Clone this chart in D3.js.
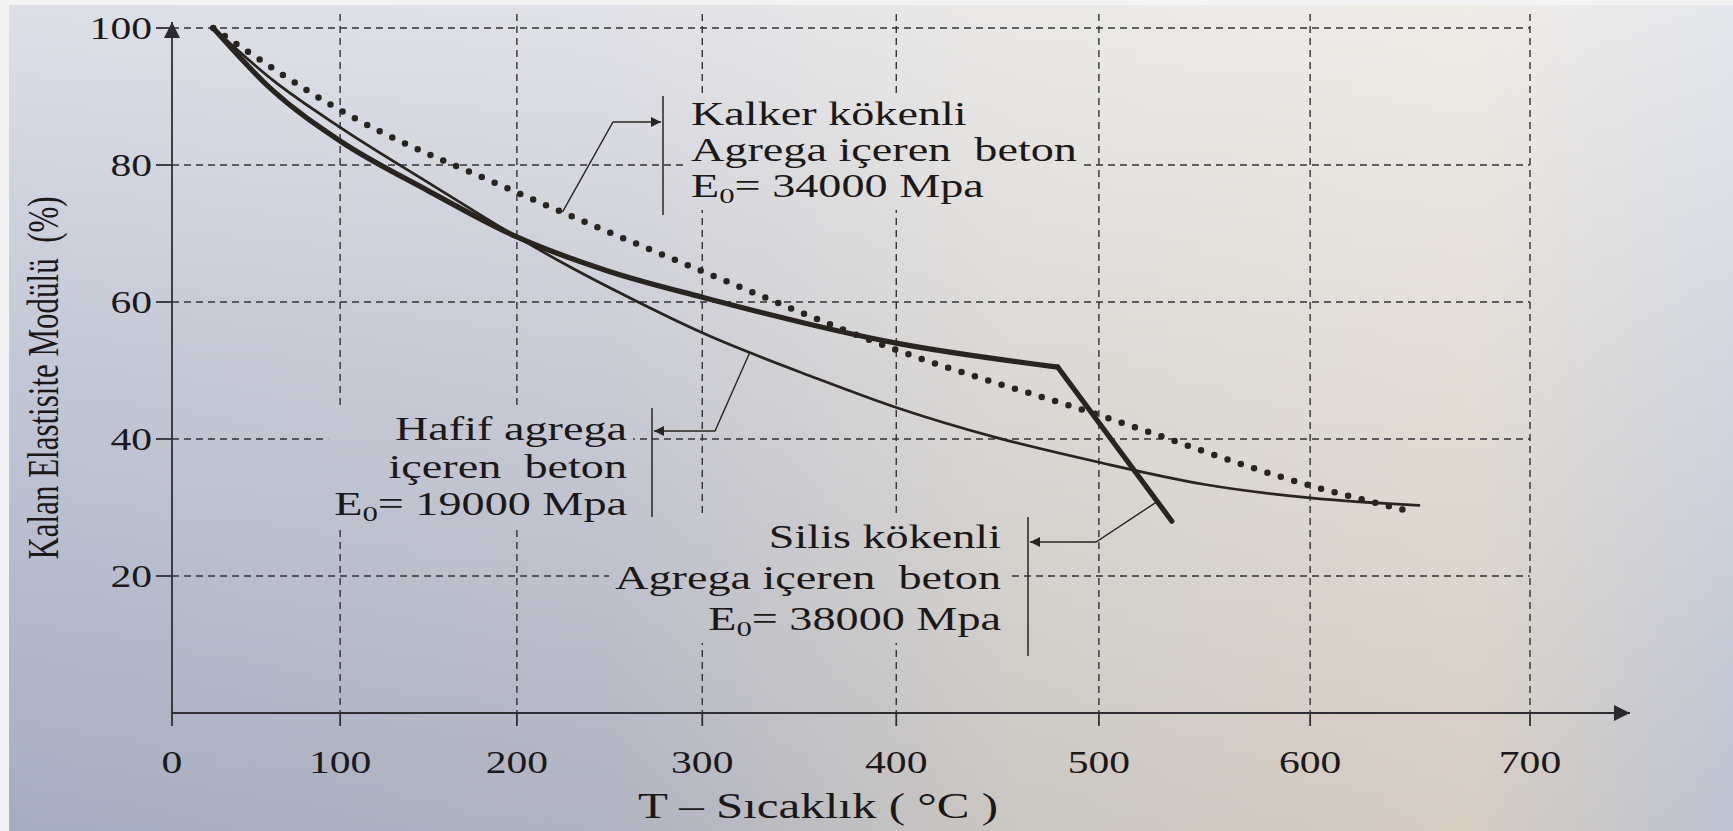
<!DOCTYPE html>
<html>
<head>
<meta charset="utf-8">
<script src="https://cdn.jsdelivr.net/npm/d3@7"></script>
<style>
  body { margin: 0; background: #dcdad6; }
  svg { display: block; }
  text { font-family: "Liberation Serif", "DejaVu Serif", serif; fill: #1b1817; white-space: pre; }
</style>
</head>
<body>
<div id="chart"></div>
<script>
// tick values
var xTicks = [0, 100, 200, 300, 400, 500, 600, 700];
var yTicks = [20, 40, 60, 80, 100];

// Kalker kökenli agrega (dotted line)
var kalkerT = [25, 100, 200, 300, 400, 500, 600, 645];
var kalkerE = [100, 88, 76, 64.5, 53, 43.5, 33.2, 29.5];

// Hafif agrega (thin line)
var hafifT = [25, 60, 100, 150, 200, 230, 260, 300, 360, 400, 450, 500, 550, 600, 650];
var hafifE = [100, 92.5, 85.5, 77.5, 69.5, 65, 60.8, 55.5, 48.8, 44.6, 40.2, 36.6, 33.4, 31.4, 30.3];

// Silis kökenli agrega (thick line), sharp break at 480
var silisT = [25, 60, 100, 150, 200, 250, 300, 400, 480, 535];
var silisE = [100, 91, 83.5, 76.3, 69.5, 64.5, 60.7, 54, 50.5, 28];
var silisBreak = 480;

var W = 1733, H = 831;
var ink = "#2a2421";

var svg = d3.select("#chart").append("svg")
    .attr("width", W)
    .attr("height", H);

var defs = svg.append("defs");

// paper colour of the photo: bluish at left, beige at right, lighter on top
var bgH = defs.append("linearGradient").attr("id", "bgH");
[["0%", "#a6adc2"], ["35%", "#b0b3c1"], ["58%", "#cbc7c2"], ["85%", "#d6cdc2"], ["100%", "#bdc3d1"]]
  .forEach(function(s) { bgH.append("stop").attr("offset", s[0]).attr("stop-color", s[1]); });
var bgV = defs.append("linearGradient").attr("id", "bgV")
    .attr("x1", 0).attr("y1", 0).attr("x2", 0).attr("y2", 1);
[["0%", 0.62], ["45%", 0.32], ["100%", 0]]
  .forEach(function(s) { bgV.append("stop").attr("offset", s[0]).attr("stop-color", "#fff").attr("stop-opacity", s[1]); });

svg.append("rect").attr("width", W).attr("height", H).attr("fill", "url(#bgH)");
svg.append("rect").attr("width", W).attr("height", H).attr("fill", "url(#bgV)");
svg.append("rect").attr("width", W).attr("height", 5).attr("fill", "#f3f3f3");
svg.append("rect").attr("width", 9).attr("height", H).attr("fill", "#f3f3f3");

// arrow heads
defs.append("marker").attr("id", "smallArrow")
    .attr("viewBox", "0 0 10 10").attr("refX", 10).attr("refY", 5)
    .attr("markerUnits", "userSpaceOnUse").attr("markerWidth", 16).attr("markerHeight", 10)
    .attr("orient", "auto")
  .append("path").attr("d", "M0,0L10,5L0,10Z").attr("fill", ink);
defs.append("marker").attr("id", "bigArrow")
    .attr("viewBox", "0 0 10 10").attr("refX", 10).attr("refY", 5)
    .attr("markerUnits", "userSpaceOnUse").attr("markerWidth", 24).attr("markerHeight", 16)
    .attr("orient", "auto")
  .append("path").attr("d", "M0,0L10,5L0,10Z").attr("fill", "#2a2a2e");

// scales: the photo spreads the right side a little, so x runs on a gently
// widening (shifted square) scale instead of a straight one
var xOffset = 1900;
var xPow = d3.scalePow().exponent(2).domain([xOffset, xOffset + 700]).range([172, 1530]);
var x = function(t) { return xPow(t + xOffset); };
var y = d3.scaleLinear().domain([0, 100]).range([713, 28]);

// grid, masked behind the text blocks
var mask = defs.append("mask").attr("id", "gridMask")
    .attr("maskUnits", "userSpaceOnUse").attr("x", 0).attr("y", 0).attr("width", W).attr("height", H);
mask.append("rect").attr("width", W).attr("height", H).attr("fill", "#fff");

var grid = svg.append("g").attr("mask", "url(#gridMask)")
    .attr("stroke", "#333336").attr("stroke-width", 1.4).attr("stroke-dasharray", "7,5");
grid.selectAll(".hg").data(yTicks).enter().append("line")
    .attr("x1", x(0)).attr("x2", x(700))
    .attr("y1", function(d) { return y(d); }).attr("y2", function(d) { return y(d); });
grid.selectAll(".vg").data(xTicks.slice(1)).enter().append("line")
    .attr("x1", function(d) { return x(d); }).attr("x2", function(d) { return x(d); })
    .attr("y1", y(100) - 14).attr("y2", y(0));

// axes
var axes = svg.append("g").attr("stroke", "#2f2f33").attr("stroke-width", 1.8);
axes.append("line").attr("x1", x(0)).attr("x2", x(0)).attr("y1", y(0)).attr("y2", y(100) - 6)
    .attr("marker-end", "url(#bigArrow)");
axes.append("line").attr("x1", x(0)).attr("x2", x(700) + 100).attr("y1", y(0)).attr("y2", y(0))
    .attr("marker-end", "url(#bigArrow)");
axes.selectAll(".yt").data(yTicks).enter().append("line")
    .attr("x1", x(0) - 16).attr("x2", x(0))
    .attr("y1", function(d) { return y(d); }).attr("y2", function(d) { return y(d); });
axes.selectAll(".xt").data(xTicks).enter().append("line")
    .attr("x1", function(d) { return x(d); }).attr("x2", function(d) { return x(d); })
    .attr("y1", y(0)).attr("y2", y(0) + 13);

// tick labels
svg.selectAll(".ylab").data(yTicks).enter().append("text")
    .attr("transform", function(d) { return "translate(" + (x(0) - 20) + "," + (y(d) + 11) + ") scale(1.3,1)"; })
    .attr("text-anchor", "end").attr("font-size", 32)
    .text(function(d) { return d; });
svg.selectAll(".xlab").data(xTicks).enter().append("text")
    .attr("transform", function(d) { return "translate(" + x(d) + "," + (y(0) + 60) + ") scale(1.3,1)"; })
    .attr("text-anchor", "middle").attr("font-size", 32)
    .text(function(d) { return d; });

// axis titles
svg.append("text")
    .attr("transform", "translate(58,378) scale(1.4,1) rotate(-90)")
    .attr("text-anchor", "middle").attr("font-size", 31)
    .text("Kalan Elastisite Modülü  (%)");
svg.append("text")
    .attr("transform", "translate(818,818) scale(1.4,1)")
    .attr("text-anchor", "middle").attr("font-size", 35)
    .text("T – Sıcaklık ( °C )");

// curves
var line = d3.line()
    .x(function(d) { return x(d[0]); })
    .y(function(d) { return y(d[1]); })
    .curve(d3.curveMonotoneX);

var kalker = d3.zip(kalkerT, kalkerE);
var hafif = d3.zip(hafifT, hafifE);
var silis = d3.zip(silisT, silisE);
var k = silisT.indexOf(silisBreak);

var curves = svg.append("g").attr("fill", "none").attr("stroke", ink)
    .attr("stroke-linejoin", "round").attr("stroke-linecap", "round");
curves.append("path").attr("d", line(kalker))
    .attr("stroke-width", 6.5).attr("stroke-dasharray", "0,14");
curves.append("path").attr("d", line(hafif)).attr("stroke-width", 2.7);
curves.append("path").attr("d", line(silis.slice(0, k + 1))).attr("stroke-width", 5.2);
curves.append("path").attr("d", line.curve(d3.curveLinear)(silis.slice(k))).attr("stroke-width", 5.2);

// annotations
var notes = [
  { lines: ["Kalker kökenli", "Agrega içeren  beton"], e0: "34000", tx: 691, ty: 125, dy: 36, anchor: "start",
    bx: 663, by: [96, 215], T: kalkerT, E: kalkerE, at: 225, bend: [613, 122], tip: [661, 122] },
  { lines: ["Hafif agrega", "içeren  beton"], e0: "19000", tx: 627, ty: 440, dy: 37.5, anchor: "end",
    bx: 652, by: [408, 517], T: hafifT, E: hafifE, at: 325, bend: [715, 431], tip: [654, 431] },
  { lines: ["Silis kökenli", "Agrega içeren  beton"], e0: "38000", tx: 1001, ty: 548, dy: 41, anchor: "end",
    bx: 1028, by: [517, 656], T: silisT, E: silisE, at: 528, bend: [1096, 542], tip: [1030, 542] }
];

notes.forEach(function(n) {
  var g = svg.append("g");
  var txt = g.append("g");
  n.lines.forEach(function(s, i) {
    txt.append("text")
        .attr("transform", "translate(" + n.tx + "," + (n.ty + i * n.dy) + ") scale(1.4,1)")
        .attr("text-anchor", n.anchor).attr("font-size", 33)
        .text(s);
  });
  var t = txt.append("text")
      .attr("transform", "translate(" + n.tx + "," + (n.ty + n.lines.length * n.dy) + ") scale(1.4,1)")
      .attr("text-anchor", n.anchor).attr("font-size", 33);
  t.append("tspan").text("E");
  t.append("tspan").attr("font-size", 22).attr("dy", 6).text("0");
  t.append("tspan").attr("dy", -6).text("= " + n.e0 + " Mpa");

  // cut the grid behind the text block
  var bb = txt.node().getBBox();
  mask.append("rect").attr("x", bb.x - 6).attr("y", bb.y - 2)
      .attr("width", bb.width + 12).attr("height", bb.height + 4).attr("fill", "#000");

  g.append("line").attr("x1", n.bx).attr("x2", n.bx).attr("y1", n.by[0]).attr("y2", n.by[1])
      .attr("stroke", ink).attr("stroke-width", 1.5);

  var onCurve = d3.scaleLinear().domain(n.T).range(n.E);
  var start = [x(n.at), y(onCurve(n.at))];
  g.append("path")
      .attr("d", "M" + start + "L" + n.bend + "L" + n.tip)
      .attr("fill", "none").attr("stroke", ink).attr("stroke-width", 1.4)
      .attr("marker-end", "url(#smallArrow)");
});
</script>
</body>
</html>
